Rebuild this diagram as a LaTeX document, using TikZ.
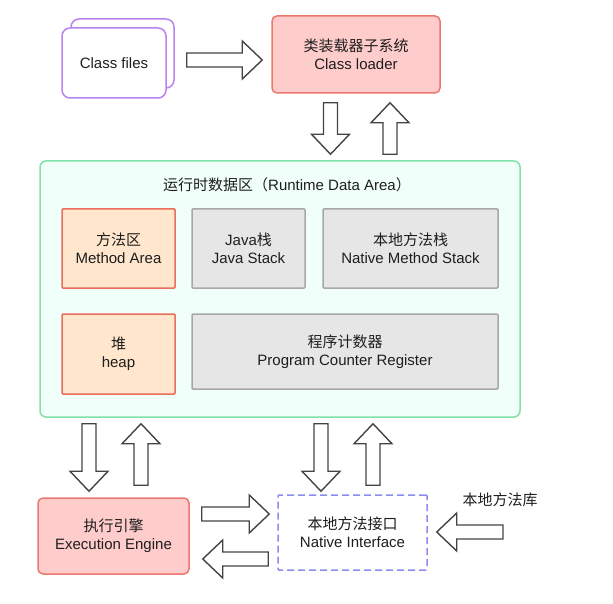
\documentclass[tikz,border=0pt]{standalone}
\usepackage{fontspec}
\setmainfont{Liberation Sans}
\newfontfamily\cjk{Noto Sans CJK SC}
\usetikzlibrary{calc}

\definecolor{txt}{RGB}{30,30,30}
\definecolor{redfill}{RGB}{255,204,204}
\definecolor{redline}{RGB}{236,120,112}
\definecolor{orgfill}{RGB}{255,230,204}
\definecolor{orgline}{RGB}{236,110,90}
\definecolor{grayfill}{RGB}{230,230,230}
\definecolor{grayline}{RGB}{168,168,168}
\definecolor{rdafill}{RGB}{240,255,250}
\definecolor{rdaline}{RGB}{130,224,170}
\definecolor{purpline}{RGB}{185,130,240}
\definecolor{blueline}{RGB}{140,140,240}
\definecolor{arrline}{RGB}{68,68,68}

% 空心粗箭头：起点, 终点
\newcommand{\bigarrow}[2]{%
  \draw[fatarrow] let \p1=($#2-#1$), \n1={atan2(\y1,\x1)}, \n2={veclen(\x1,\y1)} in
    [shift={#1}, rotate=\n1]
    (0pt,-7pt) -- (\n2-20pt,-7pt) -- (\n2-20pt,-19pt) -- (\n2,0pt)
    -- (\n2-20pt,19pt) -- (\n2-20pt,7pt) -- (0pt,7pt) -- cycle;}

\tikzset{
  box/.style={draw, rectangle, line width=1.5pt, align=center, text=txt,
              font={\fontsize{15}{18}\selectfont}},
  fatarrow/.style={draw=arrline, fill=white, line width=1.4pt, line join=miter}
}

\begin{document}
\begin{tikzpicture}[x=1pt, y=-1pt]

    \useasboundingbox (0,0) rectangle (613,604);

    % Class files
    \node[box, draw=purpline, fill=white, rounded corners=8pt,
          minimum width=103pt, minimum height=69pt] (filesback) at (122.5, 53.5) {};
    \node[box, draw=purpline, fill=white, rounded corners=8pt,
          minimum width=104pt, minimum height=70pt] (files) at (114, 63) {Class files};

    % 类装载器
    \node[box, draw=redline, fill=redfill, rounded corners=5pt,
          minimum width=168pt, minimum height=77pt] (loader) at (356, 54.5)
        {{\cjk 类装载器子系统}\\Class loader};

    % 运行时数据区
    \node[box, draw=rdaline, fill=rdafill, rounded corners=6pt,
          minimum width=480pt, minimum height=256pt] (rda) at (280, 289) {};
    \node[text=txt, font={\fontsize{15}{18}\selectfont}] (title) at (287, 185)
        {{\cjk 运行时数据区（}Runtime Data Area{\cjk ）}};

\node[
    box,
    draw=orgline,
    fill=orgfill,
    rounded corners=1pt,
    minimum width=113pt,
    minimum height=79pt
] (method) at (118.5, 248.5)
    {{\cjk 方法区}\\Method Area};

\node[
    box,
    draw=grayline,
    fill=grayfill,
    rounded corners=1pt,
    minimum width=113pt,
    minimum height=79pt
] (jstack) at (248.5, 248.5)
    {Java{\cjk 栈}\\Java Stack};

\node[
    box,
    draw=grayline,
    fill=grayfill,
    rounded corners=1pt,
    minimum width=175pt,
    minimum height=79pt
] (nstack) at (410.5, 248.5)
    {{\cjk 本地方法栈}\\Native Method Stack};

\node[
    box,
    draw=orgline,
    fill=orgfill,
    rounded corners=1pt,
    minimum width=113pt,
    minimum height=80pt
] (heap) at (118.5, 354)
    {{\cjk 堆}\\heap};

\node[
    box,
    draw=grayline,
    fill=grayfill,
    rounded corners=1pt,
    minimum width=306pt,
    minimum height=75pt
] (pcr) at (345, 351.5)
    {{\cjk 程序计数器}\\Program Counter Register};

    % 执行引擎 与 本地方法接口
    \node[box, draw=redline, fill=redfill, rounded corners=5pt,
          minimum width=151pt, minimum height=76pt] (engine) at (113.5, 536)
        {{\cjk 执行引擎}\\Execution Engine};
    \node[box, draw=blueline, fill=white, dashed, dash pattern=on 7pt off 4pt,
          rounded corners=1pt,
          minimum width=149pt, minimum height=75pt] (native) at (352.5, 532.5)
        {{\cjk 本地方法接口}\\Native Interface};

    % 本地方法库
    \node[text=txt, font={\fontsize{15}{18}\selectfont\cjk}] (lib) at (500, 500) {本地方法库};

    % 粗箭头
    \bigarrow{($(files.east)+(20,-3)$)}{($(loader.west)+(-9,5.5)$)}
    \bigarrow{($(loader.south)+(-25.5,9)$)}{($(rda.north)+(50.5,-6)$)}
    \bigarrow{($(rda.north)+(110,-6)$)}{($(loader.south)+(34,9)$)}
    \bigarrow{($(rda.south)+(-191,6)$)}{($(engine.north)+(-24.5,-6)$)}
    \bigarrow{($(engine.north)+(27.5,-12)$)}{($(rda.south)+(-139,6)$)}
    \bigarrow{($(rda.south)+(41,6)$)}{($(native.north)+(-31.5,-3)$)}
    \bigarrow{($(native.north)+(20.5,-9)$)}{($(rda.south)+(93,6)$)}
    \bigarrow{($(engine.east)+(12,-22)$)}{($(native.west)+(-8,-18.5)$)}
    \bigarrow{($(native.west)+(-9,26.5)$)}{($(engine.east)+(13,23)$)}
    \bigarrow{($(lib.south |- native.east)+(3,-0.5)$)}{($(native.east)+(9,-0.5)$)}

\end{tikzpicture}
\end{document}
